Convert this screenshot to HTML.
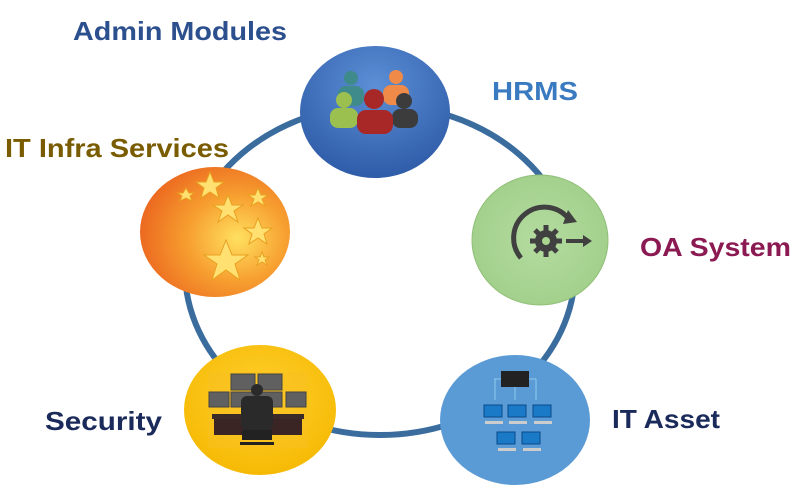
<!DOCTYPE html>
<html><head><meta charset="utf-8"><style>
html,body{margin:0;padding:0;background:#fff;width:800px;height:500px;overflow:hidden}
svg text{font-family:"Liberation Sans",sans-serif;font-weight:bold}
</style></head><body>
<svg width="800" height="500" viewBox="0 0 800 500" xmlns="http://www.w3.org/2000/svg">
<defs>
<radialGradient id="gb" cx="50%" cy="30%" r="70%"><stop offset="0" stop-color="#5b8fd6"/><stop offset="1" stop-color="#2f5ca8"/></radialGradient>
<radialGradient id="gg" cx="50%" cy="50%" r="60%"><stop offset="0" stop-color="#b4dba0"/><stop offset="1" stop-color="#9fcf88"/></radialGradient>
<radialGradient id="go" cx="65%" cy="55%" r="65%"><stop offset="0" stop-color="#ffe060"/><stop offset="0.5" stop-color="#f7a030"/><stop offset="1" stop-color="#ec6a20"/></radialGradient>
<radialGradient id="gy" cx="50%" cy="40%" r="65%"><stop offset="0" stop-color="#ffd030"/><stop offset="1" stop-color="#f5b800"/></radialGradient>
</defs>
<ellipse cx="380" cy="270" rx="195" ry="165" fill="none" stroke="#3a6c9e" stroke-width="6"/>
<!-- HRMS -->
<ellipse cx="375" cy="112" rx="75" ry="66" fill="url(#gb)"/>
<g>
<circle cx="351" cy="78" r="7" fill="#3f8a8a"/><rect x="338" y="86" width="26" height="20" rx="8" fill="#3f8a8a"/>
<circle cx="396" cy="77" r="7" fill="#f08a48"/><rect x="383" y="85" width="26" height="20" rx="8" fill="#f08a48"/>
<circle cx="344" cy="100" r="8" fill="#9cc050"/><rect x="330" y="108" width="28" height="20" rx="8" fill="#9cc050"/>
<circle cx="404" cy="101" r="8" fill="#3c3c3c"/><rect x="392" y="109" width="26" height="19" rx="8" fill="#3c3c3c"/>
<circle cx="374" cy="99" r="10" fill="#a82828"/><rect x="357" y="110" width="36" height="24" rx="9" fill="#a82828"/>
</g>
<!-- OA -->
<ellipse cx="540" cy="240" rx="68" ry="65" fill="url(#gg)" stroke="#8fbf78" stroke-width="1"/>
<g fill="#404040" stroke="#404040">
<path d="M521 258 A22 22 0 0 1 568 218" fill="none" stroke-width="5"/>
<polygon points="568,210 577,222 563,224" stroke="none"/>
<circle cx="546" cy="241" r="11" stroke="none"/>
<g stroke-width="5"><line x1="546" y1="225" x2="546" y2="257"/><line x1="530" y1="241" x2="562" y2="241"/><line x1="535" y1="230" x2="557" y2="252"/><line x1="557" y1="230" x2="535" y2="252"/></g>
<circle cx="546" cy="241" r="4" fill="#a8d590" stroke="none"/>
<line x1="566" y1="241" x2="584" y2="241" stroke-width="4"/><polygon points="583,235 592,241 583,247" stroke="none"/>
</g>
<!-- IT Infra -->
<ellipse cx="215" cy="232" rx="75" ry="65" fill="url(#go)"/>
<g fill="#ffe070" stroke="#e8a020" stroke-width="1">
<polygon points="210,172 214,182 224,182 216,188 219,198 210,192 201,198 204,188 196,182 206,182"/>
<polygon points="228,195 232,205 243,205 234,211 238,222 228,215 218,222 222,211 213,205 224,205"/>
<polygon points="258,188 261,195 268,195 262,199 265,206 258,202 251,206 254,199 248,195 255,195"/>
<polygon points="258,218 262,228 272,228 264,234 267,244 258,238 249,244 252,234 244,228 254,228"/>
<polygon points="226,240 232,255 248,255 235,264 240,280 226,270 212,280 217,264 204,255 220,255"/>
<polygon points="186,188 189,193 194,193 190,196 192,201 186,198 180,201 182,196 178,193 183,193"/>
<polygon points="262,252 264,257 269,257 265,260 267,265 262,262 257,265 259,260 255,257 260,257"/>
</g>
<!-- Security -->
<ellipse cx="260" cy="410" rx="76" ry="65" fill="url(#gy)"/>
<rect x="208" y="372" width="100" height="76" fill="#f8c020" opacity="0.6"/>
<g fill="#606060" stroke="#444" stroke-width="1">
<rect x="231" y="374" width="24" height="16"/><rect x="258" y="374" width="24" height="16"/>
<rect x="209" y="392" width="20" height="15"/><rect x="231" y="392" width="24" height="15"/><rect x="258" y="392" width="24" height="15"/><rect x="286" y="392" width="20" height="15"/>
</g>
<rect x="212" y="414" width="92" height="5" fill="#3a2a2a"/>
<rect x="214" y="419" width="88" height="16" fill="#3a2424"/>
<circle cx="257" cy="390" r="6" fill="#2a2a2a"/><rect x="241" y="396" width="32" height="34" rx="6" fill="#2a2a2a"/>
<rect x="242" y="430" width="30" height="10" fill="#222"/><rect x="240" y="442" width="34" height="3" fill="#222"/>
<!-- IT Asset -->
<ellipse cx="515" cy="420" rx="75" ry="65" fill="#5a9bd6"/>
<rect x="501" y="371" width="28" height="16" fill="#222"/>
<g stroke="#8fc8ee" stroke-width="1" fill="none"><path d="M495 379 V400 M515 387 V400 M536 379 V400 M494 379 H501 M529 379 H536"/></g>
<g fill="#1a7ac8" stroke="#0a4a8a" stroke-width="1">
<rect x="484" y="405" width="18" height="12"/><rect x="508" y="405" width="18" height="12"/><rect x="533" y="405" width="18" height="12"/>
<rect x="497" y="432" width="18" height="12"/><rect x="522" y="432" width="18" height="12"/>
</g>
<g fill="#ccc"><rect x="485" y="421" width="18" height="3"/><rect x="509" y="421" width="18" height="3"/><rect x="534" y="421" width="18" height="3"/><rect x="498" y="448" width="18" height="3"/><rect x="523" y="448" width="18" height="3"/></g>
<!-- labels -->
<text x="73" y="40" font-size="26" fill="#2c4f8e" textLength="214" lengthAdjust="spacingAndGlyphs">Admin Modules</text>
<text x="492" y="100" font-size="26" fill="#3a7ac0" textLength="86" lengthAdjust="spacingAndGlyphs">HRMS</text>
<text x="5" y="157" font-size="26" fill="#7a5c00" textLength="224" lengthAdjust="spacingAndGlyphs">IT Infra Services</text>
<text x="640" y="256" font-size="26" fill="#8b1a52" textLength="151" lengthAdjust="spacingAndGlyphs">OA System</text>
<text x="45" y="430" font-size="26" fill="#1a2a5a" textLength="117" lengthAdjust="spacingAndGlyphs">Security</text>
<text x="612" y="428" font-size="26" fill="#1a2a5a" textLength="108" lengthAdjust="spacingAndGlyphs">IT Asset</text>
</svg>
</body></html>
